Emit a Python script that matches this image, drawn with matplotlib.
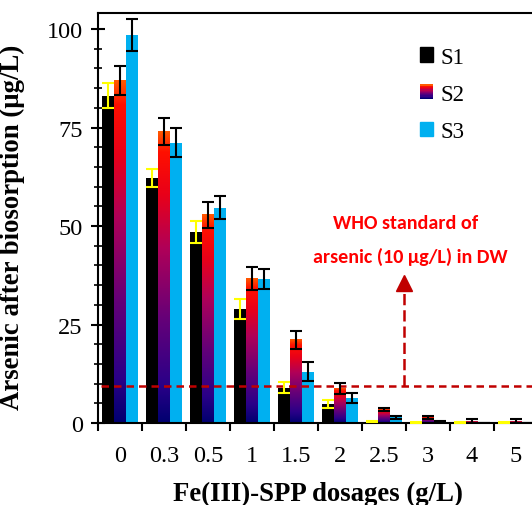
import numpy as np
import matplotlib
matplotlib.use("Agg")
import matplotlib.pyplot as plt
from matplotlib.colors import LinearSegmentedColormap
from matplotlib.legend_handler import HandlerBase
from matplotlib.patches import Rectangle

# dosage groups and the three sample series (ug/L)
dosages = ["0", "0.3", "0.5", "1", "1.5", "2", "2.5", "3", "4", "5"]
s1 = [83.1, 62.2, 48.4, 28.9, 9.0, 4.8, 0.4, 0.1, 0.1, 0.1]
s1_err = [3.2, 2.4, 2.8, 2.5, 1.5, 1.0, 0.2, 0.1, 0.1, 0.1]
s2 = [86.9, 74.0, 52.8, 36.7, 21.1, 8.8, 3.4, 1.4, 0.3, 0.3]
s2_err = [3.6, 3.5, 3.4, 3.0, 2.2, 1.4, 0.3, 0.3, 0.6, 0.6]
s3 = [98.5, 71.2, 54.7, 36.5, 13.0, 6.3, 1.4, 0.4, 0.05, 0.05]
s3_err = [4.0, 3.7, 3.0, 2.5, 2.4, 1.2, 0.5, 0.1, 0.0, 0.0]
series = ["S1", "S2", "S3"]
who_limit = 9.3

plt.rcParams["font.family"] = ["Liberation Serif", "DejaVu Serif"]

# red top -> navy bottom fill used for S2
s2_cmap = LinearSegmentedColormap.from_list(
    "s2grad",
    [(0.0, "#000070"), (0.13, "#2A0088"), (0.36, "#660078"), (0.6, "#B00058"),
     (0.78, "#E8001A"), (0.93, "#FF1000"), (1.0, "#FF5A00")],
)
grad = np.linspace(0, 1, 256).reshape(-1, 1)


class GradientHandler(HandlerBase):
    def create_artists(self, legend, orig_handle, xdescent, ydescent,
                       width, height, fontsize, trans):
        n = 12
        arts = []
        for i in range(n):
            r = Rectangle((-xdescent, -ydescent + height * i / n), width, height / n + 0.3,
                          facecolor=s2_cmap(i / (n - 1)), edgecolor="none", transform=trans)
            arts.append(r)
        return arts


fig = plt.figure(figsize=(5.32, 5.06), dpi=100)
ax = fig.add_axes([98 / 532, 82 / 506, 440 / 532, 409.7 / 506])

x = np.arange(len(dosages))
w = 0.27

b1 = ax.bar(x - w, s1, w, color="black", zorder=2, label="S1")
b2 = ax.bar(x, s2, w, color="none", zorder=2, label="S2")
b3 = ax.bar(x + w, s3, w, color="#00B0F0", zorder=2, label="S3")
for r in b2:
    ax.imshow(grad, cmap=s2_cmap, origin="lower", aspect="auto", interpolation="bicubic",
              extent=[r.get_x(), r.get_x() + r.get_width(), 0, r.get_height()], zorder=2)

ekw = dict(fmt="none", capsize=4.3, elinewidth=1.5, capthick=1.5, zorder=4)
ax.errorbar(x - w, s1, yerr=s1_err, ecolor="#FFFF00", **ekw)
ax.errorbar(x, s2, yerr=s2_err, ecolor="black", **ekw)
ax.errorbar(x + w, s3, yerr=s3_err, ecolor="black", **ekw)

# WHO guideline line with arrow to its note
red = "#C00000"
ax.plot([-0.43, 10], [who_limit, who_limit], color=red, lw=1.8, dashes=(3, 2), zorder=3)
ax.plot([6.45, 6.45], [who_limit, 33.8], color=red, lw=1.8, dashes=(4.5, 2), zorder=3)
ax.plot([6.45], [35.5], marker="^", ms=11, color=red, mec=red, zorder=3)
note_font = dict(color="#FF0000", fontsize=14.5, fontweight="bold",
                 family=["Carlito", "DejaVu Sans"], ha="center", va="center")
ax.text(6.5, 51.0, "WHO standard of", **note_font)
ax.text(6.59, 42.4, "arsenic (10 \u00b5g/L) in DW", **note_font)

ax.set_xlim(-0.5, 9.5)
ax.set_ylim(0, 104)

ax.set_xticks(np.arange(-0.5, 10, 1))
ax.set_xticklabels([])
ax.set_xticks(x, minor=True)
ax.set_xticklabels(dosages, minor=True)
ax.tick_params(axis="x", which="major", direction="out", length=6, width=1.5)
ax.tick_params(axis="x", which="minor", length=0, pad=16, labelsize=17.5)

ax.set_yticks([0, 25, 50, 75, 100])
ax.set_yticks(np.arange(0, 104, 5), minor=True)
ax.tick_params(axis="y", which="major", direction="inout", length=10, width=1.5,
               labelsize=17.5, pad=6)
ax.tick_params(axis="y", which="minor", direction="inout", length=6, width=1.2)

for sp in ax.spines.values():
    sp.set_linewidth(1.5)

ax.set_ylabel("Arsenic after biosorption (\u00b5g/L)", fontsize=19.3, fontweight="bold")
ax.yaxis.set_label_coords(-0.166, 0.481)
ax.set_xlabel("Fe(III)-SPP dosages (g/L)", fontsize=19.3, fontweight="bold")
ax.xaxis.set_label_coords(0.5, -0.142)

handles = [Rectangle((0, 0), 1, 1, color="black"), Rectangle((0, 0), 1, 1, color="#800070"),
           Rectangle((0, 0), 1, 1, color="#00B0F0")]
leg = ax.legend(handles, series, loc="upper left", bbox_to_anchor=(399 / 532, 1 - 27 / 506),
                bbox_transform=fig.transFigure, frameon=False, fontsize=16.5,
                handlelength=0.58, handleheight=0.58, handletextpad=0.35, labelspacing=0.71,
                handler_map={handles[1]: GradientHandler()})

fig.savefig("out.png", dpi=100)
